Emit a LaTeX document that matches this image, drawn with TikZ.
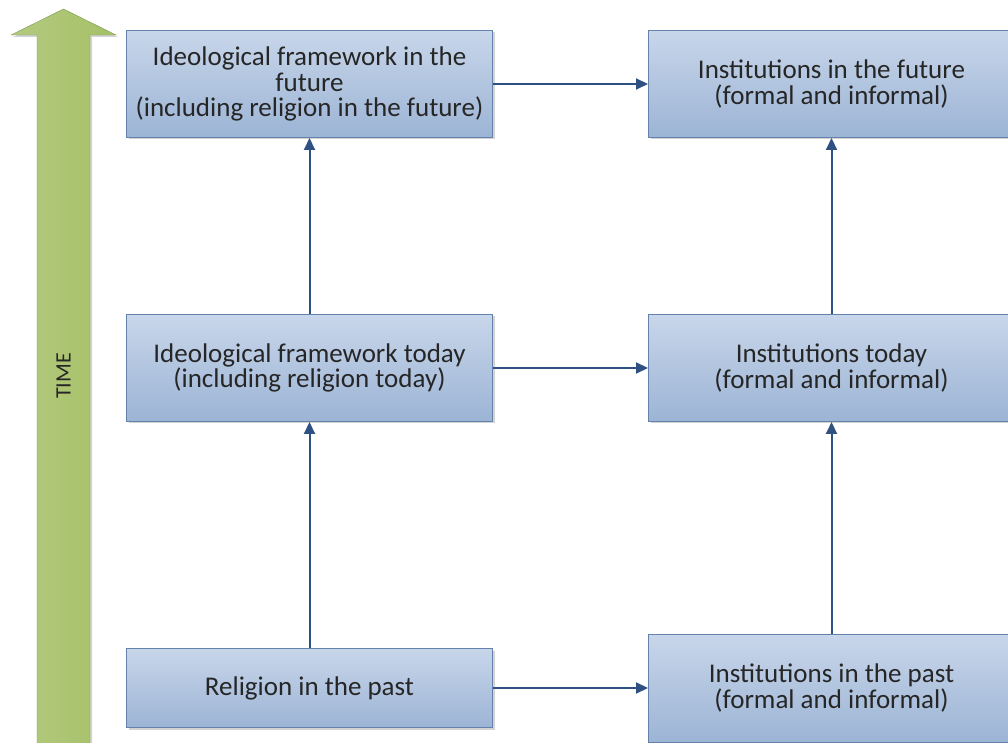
\documentclass[tikz,border=0pt]{standalone}
\usepackage{fontspec}
\setmainfont{Carlito}
\usetikzlibrary{arrows.meta}
\usetikzlibrary{positioning}
\usetikzlibrary{shadows}
\definecolor{boxtop}{HTML}{C8D6EA}
\definecolor{boxbottom}{HTML}{9CB4D5}
\definecolor{boxline}{HTML}{6482AC}
\definecolor{linkblue}{HTML}{2F5182}
\definecolor{timelight}{HTML}{B3CA80}
\definecolor{timefill}{HTML}{A6C066}
\definecolor{timeline}{HTML}{7E9A4B}
\tikzset{
  box/.style={draw=boxline, line width=1pt, top color=boxtop, bottom color=boxbottom,
    minimum width=366pt, minimum height=107pt, align=center, text=black!85,
    font=\fontsize{27}{25.5}\selectfont,
    drop shadow={shadow xshift=2pt, shadow yshift=-2pt, opacity=0.35}},
  link/.style={draw=linkblue, line width=2pt, -{Triangle[length=12pt,width=11pt]}}
}

\begin{document}
\begin{tikzpicture}[x=1pt, y=1pt]
    \useasboundingbox (0,0) rectangle (1008,742);

    % time arrow
    \draw[draw=timeline, left color=timelight, right color=timefill,
      drop shadow={shadow xshift=2pt, shadow yshift=-2pt, opacity=0.35}]
      (37,-2) -- (37,707) -- (11,707) -- (63.5,733) -- (116,707) -- (90,707) -- (90,-2) -- cycle;
    \node[rotate=90, font=\fontsize{22}{22}\selectfont, text=black!85] (timelabel) at (63.5,366) {TIME};

    % boxes
    \node[box] (ideofuture) at (309.5,658) {Ideological framework in the\\future\\(including religion in the future)};
    \node[box, right=155pt of ideofuture] (instfuture) {Institutions in the future\\(formal and informal)};
    \node[box, below=176pt of ideofuture] (ideotoday) {Ideological framework today\\(including religion today)};
    \node[box, right=155pt of ideotoday] (insttoday) {Institutions today\\(formal and informal)};
    \node[box, minimum height=79pt, below=226pt of ideotoday] (relpast) {Religion in the past};
    \node[box, minimum height=108pt, right=155pt of relpast] (instpast) {Institutions in the past\\(formal and informal)};

    % links
    \draw[link] (relpast) -- (ideotoday);
    \draw[link] (ideotoday) -- (ideofuture);
    \draw[link] (instpast) -- (insttoday);
    \draw[link] (insttoday) -- (instfuture);
    \draw[link] (relpast) -- (instpast);
    \draw[link] (ideotoday) -- (insttoday);
    \draw[link] (ideofuture) -- (instfuture);
\end{tikzpicture}
\end{document}
